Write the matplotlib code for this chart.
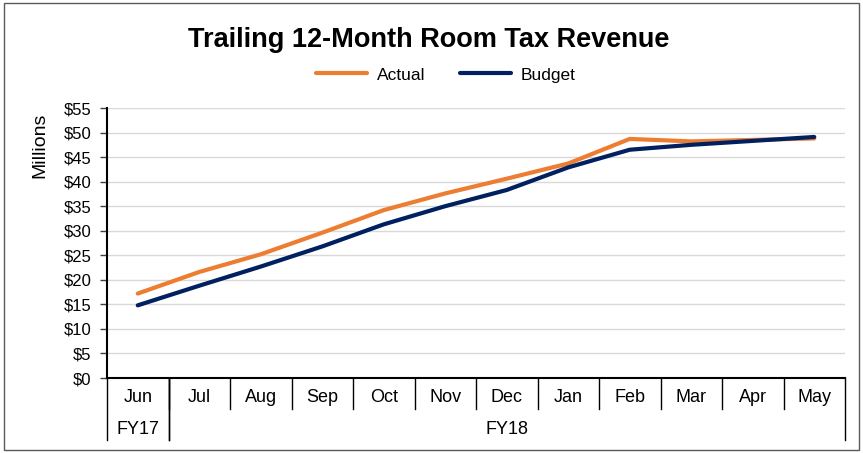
import matplotlib
matplotlib.use("Agg")
import matplotlib.pyplot as plt
from matplotlib.patches import Rectangle

plt.rcParams['font.family'] = ['Liberation Sans Narrow', 'Liberation Sans', 'DejaVu Sans']

# data (millions of $)
months  = ["Jun", "Jul", "Aug", "Sep", "Oct", "Nov", "Dec", "Jan", "Feb", "Mar", "Apr", "May"]
fy_labels = ["FY17", "FY18"]
fy_span   = [(0, 0), (1, 11)]   # first and last month index of each fiscal year
actual  = [17.2, 21.6, 25.2, 29.6, 34.2, 37.6, 40.6, 43.7, 48.7, 48.2, 48.5, 48.8]
budget  = [14.8, 18.8, 22.7, 26.8, 31.3, 35.0, 38.3, 42.9, 46.5, 47.5, 48.3, 49.1]
yticks  = list(range(0, 60, 5))

W, H = 863, 453
fig = plt.figure(figsize=(W / 100, H / 100), dpi=100)
ax = fig.add_axes([107 / W, 1 - 378 / H, (845 - 107) / W, (378 - 108) / H])

x = list(range(len(months)))
ax.plot(x, actual, color="#ED7D31", lw=3, solid_capstyle="round", label="Actual")
ax.plot(x, budget, color="#002060", lw=3, solid_capstyle="round", label="Budget")

ax.set_xlim(-0.5, len(months) - 0.5)
ax.set_ylim(0, 55)
ax.set_yticks(yticks)
ax.set_yticklabels(["$%d" % v for v in yticks], fontsize=12)
ax.tick_params(axis="y", direction="out", length=5, width=1, pad=6, colors="#404040", labelcolor="black")
ax.set_xticks([])
ax.grid(axis="y", color="#D9D9D9", lw=1)
ax.set_axisbelow(True)
for s in ["top", "right"]:
    ax.spines[s].set_visible(False)
ax.spines["left"].set_linewidth(1.5)
ax.spines["bottom"].set_linewidth(1.5)

# two-level category axis
tr = ax.get_xaxis_transform()
row1 = -31 / 270
row2 = -62 / 270
for i, m in enumerate(months):
    ax.text(i, -19 / 270, m, transform=tr, ha="center", va="center", fontsize=13)
for i in range(1, len(months)):
    ax.plot([i - 0.5, i - 0.5], [0, row1], transform=tr, color="black", lw=1, clip_on=False)
for lab, (a, b) in zip(fy_labels, fy_span):
    ax.text((a + b) / 2, -51 / 270, lab, transform=tr, ha="center", va="center", fontsize=13)
    for edge in (a - 0.5, b + 0.5):
        ax.plot([edge, edge], [0, row2], transform=tr, color="black", lw=1, clip_on=False)

fig.text(40 / W, 1 - 145 / H, "Millions", rotation=90, ha="center", va="center", fontsize=14)

fig.text(429 / W, 1 - 40 / H, "Trailing 12-Month Room Tax Revenue", ha="center", va="center",
         fontsize=19.5, fontweight="bold")
fig.legend(loc="center", bbox_to_anchor=(446 / W, 1 - 75 / H), ncol=2, frameon=False,
           fontsize=12.5, handlelength=2.9, columnspacing=2.0, handletextpad=0.6)

fig.patches.append(Rectangle((4 / W, 3 / H), (859 - 4) / W, (450 - 3) / H, transform=fig.transFigure,
                             fill=False, edgecolor="#595959", lw=1))

fig.savefig("out.png", dpi=100)
plt.close(fig)
